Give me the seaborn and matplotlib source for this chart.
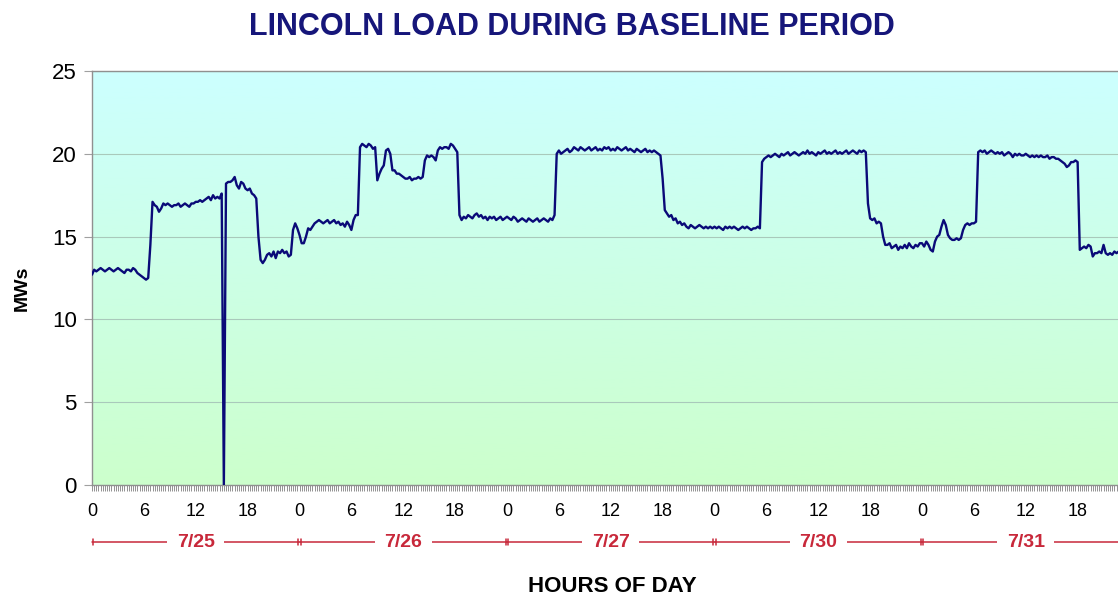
import numpy as np
import pandas as pd
import seaborn as sns
import matplotlib.pyplot as plt
import matplotlib.transforms as mtransforms
from matplotlib.colors import LinearSegmentedColormap
from matplotlib.ticker import MultipleLocator

# 15-minute load readings (MW), one list per day
load_725 = [
    12.7, 13.0, 12.9, 13.0, 13.1, 13.0, 12.9, 13.0, 13.1, 13.0, 12.9, 13.0,
    13.1, 13.0, 12.9, 12.8, 13.0, 13.0, 12.9, 13.1, 13.0, 12.8, 12.7, 12.6,
    12.5, 12.4, 12.5, 14.5,
    17.1, 16.9, 16.8, 16.5, 16.7, 17.0, 16.9, 17.0, 16.9, 16.8, 16.9, 16.9,
    17.0, 16.8, 16.9, 17.0, 16.9, 16.8, 17.0, 17.0, 17.1, 17.1, 17.2, 17.1,
    17.2, 17.3, 17.4, 17.2, 17.5, 17.3, 17.4, 17.3,
    17.6, 0.0,
    18.2, 18.3, 18.3, 18.4, 18.6, 18.1, 17.9, 18.3, 18.2, 17.9, 17.8, 17.9,
    17.6, 17.5, 17.3, 15.0, 13.6, 13.4,
    13.6, 13.9, 14.0, 13.8, 14.1, 13.7, 14.1, 14.0, 14.2, 14.0, 14.1, 13.8,
    13.9, 15.4, 15.8, 15.5,
]
load_726 = [
    15.1, 14.6, 14.6, 15.0, 15.5, 15.4, 15.6, 15.8,
    15.9, 16.0, 15.9, 15.8, 15.9, 16.0, 15.8, 15.9, 16.0, 15.8, 15.9, 15.7,
    15.8, 15.6, 15.9, 15.7,
    15.4, 16.0, 16.3, 16.3,
    20.4, 20.6, 20.5, 20.4, 20.6, 20.5, 20.3, 20.4,
    18.4, 18.8, 19.1, 19.3, 20.2, 20.3, 20.0, 19.0,
    19.0, 18.8, 18.8, 18.7,
    18.6, 18.5, 18.5, 18.6, 18.4, 18.5, 18.5, 18.6, 18.5, 18.6,
    19.6, 19.9,
    19.8, 19.9, 19.8, 19.6,
    20.2, 20.4, 20.3, 20.4, 20.4, 20.3, 20.6, 20.5, 20.3, 20.1,
    16.3, 16.0, 16.2, 16.1, 16.3, 16.2, 16.1, 16.3, 16.4, 16.2, 16.3, 16.1,
    16.2, 16.0, 16.2, 16.1, 16.2, 16.0, 16.1, 16.2, 16.0, 16.1,
]
load_727 = [
    16.2, 16.1, 16.0, 16.2, 16.1, 15.9, 16.0, 16.1, 16.0, 15.9, 16.1, 16.0,
    15.9, 16.0, 16.1, 15.9, 16.0, 16.1, 16.0, 15.9, 16.1, 16.0,
    16.3, 20.0,
    20.2, 20.0, 20.1, 20.2, 20.3, 20.1, 20.2, 20.4, 20.3, 20.2, 20.4, 20.3,
    20.2, 20.3, 20.4, 20.2, 20.3, 20.4, 20.2, 20.3, 20.2, 20.4, 20.3, 20.4,
    20.2, 20.3, 20.2, 20.4, 20.3, 20.2, 20.3, 20.4, 20.2, 20.3, 20.2, 20.1,
    20.3, 20.2, 20.1, 20.2, 20.3, 20.1, 20.2, 20.1, 20.2, 20.1, 20.0, 19.9,
    18.5, 16.6, 16.4, 16.2, 16.3, 16.0, 16.1, 15.8, 15.9, 15.7, 15.8, 15.6,
    15.5, 15.7, 15.6, 15.5, 15.6, 15.7, 15.6, 15.5, 15.6, 15.5, 15.6, 15.5,
]
load_730 = [
    15.6, 15.5, 15.6, 15.5, 15.4, 15.6, 15.5, 15.6, 15.5, 15.6, 15.5, 15.4,
    15.5, 15.6, 15.5, 15.6, 15.5, 15.4, 15.5, 15.5, 15.6, 15.5,
    19.5, 19.7,
    19.8, 19.9, 19.8, 19.9, 20.0, 19.9, 19.8, 20.0, 19.9, 20.0, 20.1, 19.9,
    20.0, 20.1, 20.0, 19.9, 20.0, 20.1, 20.0, 20.2, 20.0, 20.1, 20.0, 19.9,
    20.1, 20.0, 20.1, 20.2, 20.0, 20.1, 20.0, 20.1, 20.2, 20.0, 20.1, 20.0,
    20.1, 20.2, 20.0, 20.1, 20.2, 20.1, 20.0, 20.2, 20.1, 20.2, 20.1,
    17.0, 16.1, 16.0, 16.1, 15.8, 15.9, 15.8, 15.0, 14.5,
    14.5, 14.6, 14.3, 14.4, 14.5, 14.2, 14.4, 14.3, 14.5, 14.3, 14.6, 14.4,
    14.3, 14.5, 14.4, 14.6,
]
load_731 = [
    14.6, 14.4, 14.7, 14.5, 14.2, 14.1, 14.7, 15.0, 15.1, 15.6, 16.0, 15.7,
    15.1, 14.9, 14.8, 14.8, 14.9, 14.8, 14.9, 15.4, 15.7, 15.8, 15.7, 15.8,
    15.8, 15.9,
    20.1,
    20.2, 20.1, 20.2, 20.0, 20.1, 20.2, 20.1, 20.0, 20.1, 20.0, 20.1, 19.9,
    20.0, 20.1, 20.0, 19.8, 20.0, 19.9, 20.0, 19.9, 19.9, 20.0, 19.9, 19.8,
    19.9, 19.8, 19.9, 19.8, 19.9, 19.8, 19.8, 19.9, 19.7, 19.8, 19.8, 19.7,
    19.7, 19.6, 19.5, 19.4, 19.2, 19.3, 19.5, 19.5, 19.6, 19.5,
    14.2, 14.3, 14.4, 14.3, 14.5, 14.4, 13.8, 14.0, 14.0, 14.1, 14.0, 14.5,
    14.0, 13.9, 14.0, 13.9, 14.1, 14.0, 14.1, 14.0, 13.9, 14.1, 14.0,
]

days = ["7/25", "7/26", "7/27", "7/30", "7/31"]
hour_labels = ["0", "6", "12", "18"]

daily = [load_725, load_726, load_727, load_730, load_731]
for d in daily:
    assert len(d) == 96, len(d)

mw = np.concatenate(daily)
df = pd.DataFrame({"hour": np.arange(len(mw)) * 0.25, "mw": mw})

sns.set_style("white")
plt.rcParams["font.family"] = ["Liberation Sans", "DejaVu Sans"]
plt.rcParams["text.color"] = "black"

W, H = 1118, 598
fig = plt.figure(figsize=(W / 100, H / 100), dpi=100)
# plot area runs past the right edge, as in the cropped original
ax = fig.add_axes([92 / W, 113 / H, 1037.5 / W, 414 / H])

# cyan -> green background gradient
bg = LinearSegmentedColormap.from_list("bg", ["#ccffcc", "#ccffff"])
ax.imshow(np.linspace(0, 1, 256).reshape(-1, 1), cmap=bg, origin="lower",
          extent=[0, 1, 0, 1], transform=ax.transAxes, aspect="auto", zorder=0)

sns.lineplot(data=df, x="hour", y="mw", color="#0a0a78", linewidth=1.7, ax=ax, zorder=3)

ax.set_xlim(0, 24 * len(days))
ax.set_ylim(0, 25)
ax.set_xlabel("")
ax.set_ylabel("")

ax.set_yticks(range(0, 26, 5))
ax.yaxis.grid(True, color="#a9c9bb", linewidth=0.8)
ax.xaxis.grid(False)
ax.set_axisbelow(True)

ax.set_xticks(np.arange(0, 24 * len(days), 6))
ax.set_xticklabels(hour_labels * len(days))
ax.xaxis.set_minor_locator(MultipleLocator(0.25))
ax.tick_params(axis="x", which="both", direction="out", length=4, width=0.6,
               color="#808080", bottom=True)
ax.tick_params(axis="x", which="major", labelsize=13, pad=9, labelcolor="black")
ax.tick_params(axis="y", direction="out", length=6, width=0.8, color="#a0a0a0",
               left=True, labelsize=16, pad=5, labelcolor="black")

for s in ax.spines.values():
    s.set_color("#909090")
    s.set_linewidth(1.0)

# day brackets under the hour labels
red = "#c8283a"
trans = mtransforms.blended_transform_factory(ax.transData, ax.transAxes)
yb = -0.1377
for i, day in enumerate(days):
    x0, x1 = i * 24, (i + 1) * 24
    ax.plot([x0, x1], [yb, yb], color=red, lw=1.1, transform=trans, clip_on=False)
    for xe in (x0 + 0.12, x1 - 0.12):
        ax.plot([xe, xe], [yb - 0.008, yb + 0.008], color=red, lw=1.1,
                transform=trans, clip_on=False)
    ax.text((x0 + x1) / 2, yb, day, transform=trans, ha="center", va="center",
            color=red, fontsize=14, fontweight="bold", zorder=5,
            bbox=dict(boxstyle="square,pad=0.5", fc="white", ec="none"))

fig.text(572 / W, 1 - 27 / H, "LINCOLN LOAD DURING BASELINE PERIOD", ha="center",
         va="center", fontsize=22, fontweight="bold", color="#16167a")
fig.text(22 / W, 1 - 288 / H, "MWs", rotation=90, ha="center", va="center",
         fontsize=14, fontweight="bold")
fig.text(612 / W, 1 - 587 / H, "HOURS OF DAY", ha="center", va="center",
         fontsize=16, fontweight="bold")

fig.savefig("out.png", dpi=100)
